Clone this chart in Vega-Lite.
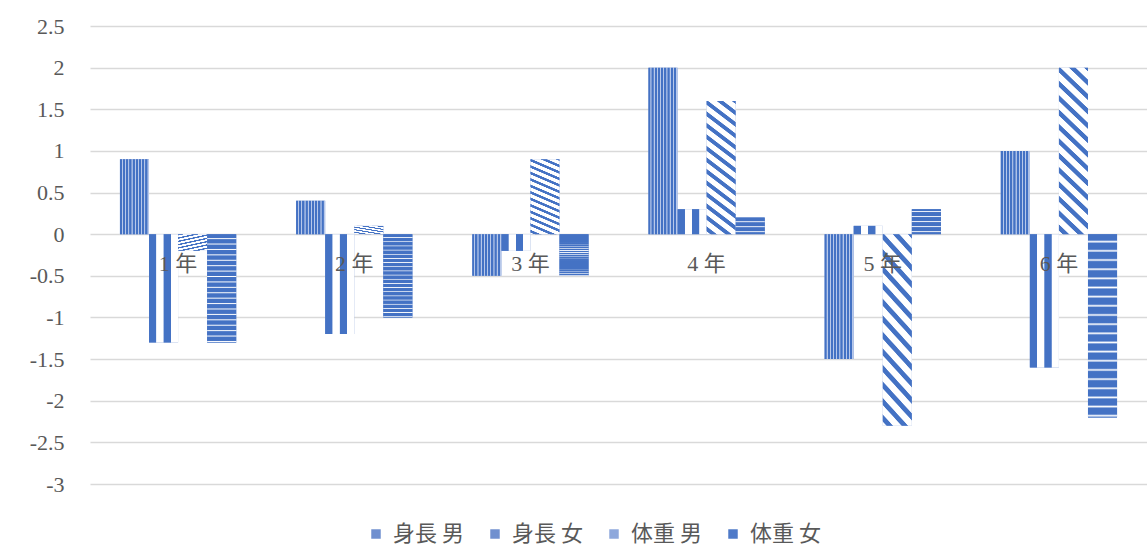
{
  "$schema": "https://vega.github.io/schema/vega-lite/v6.json",
  "autosize": "none",
  "width": 1057,
  "height": 458,
  "padding": {"left": 90, "top": 26, "right": 0, "bottom": 63},
  "background": "#ffffff",
  "config": {
    "view": {"stroke": null},
    "font": "Liberation Serif, Noto Sans CJK JP"
  },
  "data": {
    "values": [
      {"cat": "1 年", "series": "身長 男", "value": 0.9},
      {"cat": "1 年", "series": "身長 女", "value": -1.3},
      {"cat": "1 年", "series": "体重 男", "value": -0.2},
      {"cat": "1 年", "series": "体重 女", "value": -1.3},
      {"cat": "2 年", "series": "身長 男", "value": 0.4},
      {"cat": "2 年", "series": "身長 女", "value": -1.2},
      {"cat": "2 年", "series": "体重 男", "value": 0.1},
      {"cat": "2 年", "series": "体重 女", "value": -1.0},
      {"cat": "3 年", "series": "身長 男", "value": -0.5},
      {"cat": "3 年", "series": "身長 女", "value": -0.2},
      {"cat": "3 年", "series": "体重 男", "value": 0.9},
      {"cat": "3 年", "series": "体重 女", "value": -0.5},
      {"cat": "4 年", "series": "身長 男", "value": 2.0},
      {"cat": "4 年", "series": "身長 女", "value": 0.3},
      {"cat": "4 年", "series": "体重 男", "value": 1.6},
      {"cat": "4 年", "series": "体重 女", "value": 0.2},
      {"cat": "5 年", "series": "身長 男", "value": -1.5},
      {"cat": "5 年", "series": "身長 女", "value": 0.1},
      {"cat": "5 年", "series": "体重 男", "value": -2.3},
      {"cat": "5 年", "series": "体重 女", "value": 0.3},
      {"cat": "6 年", "series": "身長 男", "value": 1.0},
      {"cat": "6 年", "series": "身長 女", "value": -1.6},
      {"cat": "6 年", "series": "体重 男", "value": 2.0},
      {"cat": "6 年", "series": "体重 女", "value": -2.2}
    ]
  },
  "encoding": {
    "x": {
      "field": "cat", "type": "nominal", "sort": null,
      "scale": {"paddingInner": 0.34, "paddingOuter": 0.17},
      "axis": {
        "title": null, "orient": "bottom", "offset": -250, "domain": false, "ticks": false, "grid": false,
        "labelAngle": 0, "labelFontSize": 22, "labelColor": "#595959", "labelPadding": 19,
        "labelBaseline": "top", "labelFont": "Liberation Serif, Noto Sans CJK JP", "zindex": 1
      }
    },
    "xOffset": {
      "field": "series", "type": "nominal",
      "scale": {"domain": ["身長 男", "身長 女", "体重 男", "体重 女"], "paddingInner": 0, "paddingOuter": 0}
    },
    "y": {
      "field": "value", "type": "quantitative",
      "scale": {"domain": [-3, 2.5], "nice": false, "zero": true},
      "axis": {
        "title": null, "values": [-3, -2.5, -2, -1.5, -1, -0.5, 0, 0.5, 1, 1.5, 2, 2.5],
        "labelExpr": "'' + datum.value", "domain": false, "ticks": false, "grid": true,
        "gridColor": "#d9d9d9", "gridWidth": 1.3, "labelFontSize": 22, "labelColor": "#595959",
        "labelPadding": 26, "labelFont": "Liberation Serif, Noto Sans CJK JP"
      }
    }
  },
  "layer": [
    {
      "mark": {"type": "bar"},
      "encoding": {
        "fill": {
          "field": "series", "type": "nominal",
          "scale": {"domain": ["身長 男", "身長 女", "体重 男", "体重 女"], "range": ["#6f8fcf", "#7090cf", "#8ea8dc", "#4f7ac8"]},
          "legend": {
            "title": null, "orient": "none", "legendX": 275, "legendY": 497, "direction": "horizontal",
            "symbolType": "square", "symbolSize": 90, "symbolStrokeWidth": 0, "labelFontSize": 22, "labelColor": "#595959",
            "labelFont": "Noto Sans CJK JP", "labelOffset": 6, "columnPadding": 20, "padding": 0
          }
        }
      }
    },
    {
      "transform": [{"filter": "datum.series === '身長 男'"}],
      "mark": {
        "type": "bar",
        "fill": {
          "gradient": "linear", "x1": 0, "y1": 0, "x2": 1, "y2": 0,
          "stops": [
            {"offset": 0, "color": "#4472c4"}, {"offset": 0.06, "color": "#4472c4"}, {"offset": 0.075, "color": "#b7c8ea"}, {"offset": 0.1, "color": "#b7c8ea"},
            {"offset": 0.11, "color": "#4472c4"}, {"offset": 0.17, "color": "#4472c4"}, {"offset": 0.185, "color": "#b7c8ea"}, {"offset": 0.21, "color": "#b7c8ea"},
            {"offset": 0.22, "color": "#4472c4"}, {"offset": 0.28, "color": "#4472c4"}, {"offset": 0.295, "color": "#b7c8ea"}, {"offset": 0.32, "color": "#b7c8ea"},
            {"offset": 0.33, "color": "#4472c4"}, {"offset": 0.39, "color": "#4472c4"}, {"offset": 0.405, "color": "#b7c8ea"}, {"offset": 0.43, "color": "#b7c8ea"},
            {"offset": 0.44, "color": "#4472c4"}, {"offset": 0.5, "color": "#4472c4"}, {"offset": 0.515, "color": "#b7c8ea"}, {"offset": 0.54, "color": "#b7c8ea"},
            {"offset": 0.55, "color": "#4472c4"}, {"offset": 0.61, "color": "#4472c4"}, {"offset": 0.625, "color": "#b7c8ea"}, {"offset": 0.65, "color": "#b7c8ea"},
            {"offset": 0.66, "color": "#4472c4"}, {"offset": 0.72, "color": "#4472c4"}, {"offset": 0.735, "color": "#b7c8ea"}, {"offset": 0.76, "color": "#b7c8ea"},
            {"offset": 0.77, "color": "#4472c4"}, {"offset": 0.83, "color": "#4472c4"}, {"offset": 0.845, "color": "#b7c8ea"}, {"offset": 0.87, "color": "#b7c8ea"},
            {"offset": 0.88, "color": "#4472c4"}, {"offset": 0.94, "color": "#4472c4"}, {"offset": 0.955, "color": "#b7c8ea"}, {"offset": 1, "color": "#b7c8ea"}
          ]
        }
      }
    },
    {
      "transform": [{"filter": "datum.series === '身長 女'"}],
      "mark": {
        "type": "bar",
        "fill": {
          "gradient": "linear", "x1": 0, "y1": 0, "x2": 1, "y2": 0,
          "stops": [
            {"offset": 0, "color": "#4472c4"}, {"offset": 0.24, "color": "#4472c4"}, {"offset": 0.26, "color": "#ffffff"}, {"offset": 0.49, "color": "#ffffff"},
            {"offset": 0.51, "color": "#4472c4"}, {"offset": 0.74, "color": "#4472c4"}, {"offset": 0.76, "color": "#ffffff"}, {"offset": 1, "color": "#ffffff"}
          ]
        }
      }
    },
    {
      "transform": [{"filter": "datum.series === '体重 男'"}],
      "mark": {
        "type": "bar",
        "fill": {
          "gradient": "linear", "x1": 0.2, "y1": -0.2, "x2": 0, "y2": 1,
          "stops": [
            {"offset": 0, "color": "#ffffff"}, {"offset": 0.04, "color": "#ffffff"},
            {"offset": 0.045, "color": "#4472c4"}, {"offset": 0.07, "color": "#4472c4"}, {"offset": 0.075, "color": "#ffffff"}, {"offset": 0.11, "color": "#ffffff"},
            {"offset": 0.115, "color": "#4472c4"}, {"offset": 0.14, "color": "#4472c4"}, {"offset": 0.145, "color": "#ffffff"}, {"offset": 0.18, "color": "#ffffff"},
            {"offset": 0.185, "color": "#4472c4"}, {"offset": 0.21, "color": "#4472c4"}, {"offset": 0.215, "color": "#ffffff"}, {"offset": 0.25, "color": "#ffffff"},
            {"offset": 0.255, "color": "#4472c4"}, {"offset": 0.28, "color": "#4472c4"}, {"offset": 0.285, "color": "#ffffff"}, {"offset": 0.32, "color": "#ffffff"},
            {"offset": 0.325, "color": "#4472c4"}, {"offset": 0.35, "color": "#4472c4"}, {"offset": 0.355, "color": "#ffffff"}, {"offset": 0.39, "color": "#ffffff"},
            {"offset": 0.395, "color": "#4472c4"}, {"offset": 0.42, "color": "#4472c4"}, {"offset": 0.425, "color": "#ffffff"}, {"offset": 0.46, "color": "#ffffff"},
            {"offset": 0.465, "color": "#4472c4"}, {"offset": 0.49, "color": "#4472c4"}, {"offset": 0.495, "color": "#ffffff"}, {"offset": 0.53, "color": "#ffffff"},
            {"offset": 0.535, "color": "#4472c4"}, {"offset": 0.56, "color": "#4472c4"}, {"offset": 0.565, "color": "#ffffff"}, {"offset": 0.6, "color": "#ffffff"},
            {"offset": 0.605, "color": "#4472c4"}, {"offset": 0.63, "color": "#4472c4"}, {"offset": 0.635, "color": "#ffffff"}, {"offset": 0.67, "color": "#ffffff"},
            {"offset": 0.675, "color": "#4472c4"}, {"offset": 0.7, "color": "#4472c4"}, {"offset": 0.705, "color": "#ffffff"}, {"offset": 0.74, "color": "#ffffff"},
            {"offset": 0.745, "color": "#4472c4"}, {"offset": 0.77, "color": "#4472c4"}, {"offset": 0.775, "color": "#ffffff"}, {"offset": 0.81, "color": "#ffffff"},
            {"offset": 0.815, "color": "#4472c4"}, {"offset": 0.84, "color": "#4472c4"}, {"offset": 0.845, "color": "#ffffff"}, {"offset": 0.88, "color": "#ffffff"},
            {"offset": 0.885, "color": "#4472c4"}, {"offset": 0.91, "color": "#4472c4"}, {"offset": 0.915, "color": "#ffffff"}, {"offset": 0.95, "color": "#ffffff"},
            {"offset": 0.955, "color": "#4472c4"}, {"offset": 0.98, "color": "#4472c4"}, {"offset": 0.985, "color": "#ffffff"}, {"offset": 1, "color": "#ffffff"}
          ]
        }
      }
    },
    {
      "transform": [{"filter": "datum.series === '体重 女'"}],
      "mark": {
        "type": "bar",
        "fill": {
          "gradient": "linear", "x1": 0, "y1": 0, "x2": 0, "y2": 1,
          "stops": [
            {"offset": 0, "color": "#4472c4"}, {"offset": 0.032, "color": "#4472c4"}, {"offset": 0.041, "color": "#ffffff"},
            {"offset": 0.05, "color": "#4472c4"}, {"offset": 0.082, "color": "#4472c4"}, {"offset": 0.091, "color": "#ffffff"},
            {"offset": 0.1, "color": "#4472c4"}, {"offset": 0.132, "color": "#4472c4"}, {"offset": 0.141, "color": "#ffffff"},
            {"offset": 0.15, "color": "#4472c4"}, {"offset": 0.182, "color": "#4472c4"}, {"offset": 0.191, "color": "#ffffff"},
            {"offset": 0.2, "color": "#4472c4"}, {"offset": 0.232, "color": "#4472c4"}, {"offset": 0.241, "color": "#ffffff"},
            {"offset": 0.25, "color": "#4472c4"}, {"offset": 0.282, "color": "#4472c4"}, {"offset": 0.291, "color": "#ffffff"},
            {"offset": 0.3, "color": "#4472c4"}, {"offset": 0.332, "color": "#4472c4"}, {"offset": 0.341, "color": "#ffffff"},
            {"offset": 0.35, "color": "#4472c4"}, {"offset": 0.382, "color": "#4472c4"}, {"offset": 0.391, "color": "#ffffff"},
            {"offset": 0.4, "color": "#4472c4"}, {"offset": 0.432, "color": "#4472c4"}, {"offset": 0.441, "color": "#ffffff"},
            {"offset": 0.45, "color": "#4472c4"}, {"offset": 0.482, "color": "#4472c4"}, {"offset": 0.491, "color": "#ffffff"},
            {"offset": 0.5, "color": "#4472c4"}, {"offset": 0.532, "color": "#4472c4"}, {"offset": 0.541, "color": "#ffffff"},
            {"offset": 0.55, "color": "#4472c4"}, {"offset": 0.582, "color": "#4472c4"}, {"offset": 0.591, "color": "#ffffff"},
            {"offset": 0.6, "color": "#4472c4"}, {"offset": 0.632, "color": "#4472c4"}, {"offset": 0.641, "color": "#ffffff"},
            {"offset": 0.65, "color": "#4472c4"}, {"offset": 0.682, "color": "#4472c4"}, {"offset": 0.691, "color": "#ffffff"},
            {"offset": 0.7, "color": "#4472c4"}, {"offset": 0.732, "color": "#4472c4"}, {"offset": 0.741, "color": "#ffffff"},
            {"offset": 0.75, "color": "#4472c4"}, {"offset": 0.782, "color": "#4472c4"}, {"offset": 0.791, "color": "#ffffff"},
            {"offset": 0.8, "color": "#4472c4"}, {"offset": 0.832, "color": "#4472c4"}, {"offset": 0.841, "color": "#ffffff"},
            {"offset": 0.85, "color": "#4472c4"}, {"offset": 0.882, "color": "#4472c4"}, {"offset": 0.891, "color": "#ffffff"},
            {"offset": 0.9, "color": "#4472c4"}, {"offset": 0.932, "color": "#4472c4"}, {"offset": 0.941, "color": "#ffffff"},
            {"offset": 0.95, "color": "#4472c4"}, {"offset": 0.982, "color": "#4472c4"}, {"offset": 0.991, "color": "#ffffff"},
            {"offset": 1, "color": "#4472c4"}
          ]
        }
      }
    }
  ]
}
